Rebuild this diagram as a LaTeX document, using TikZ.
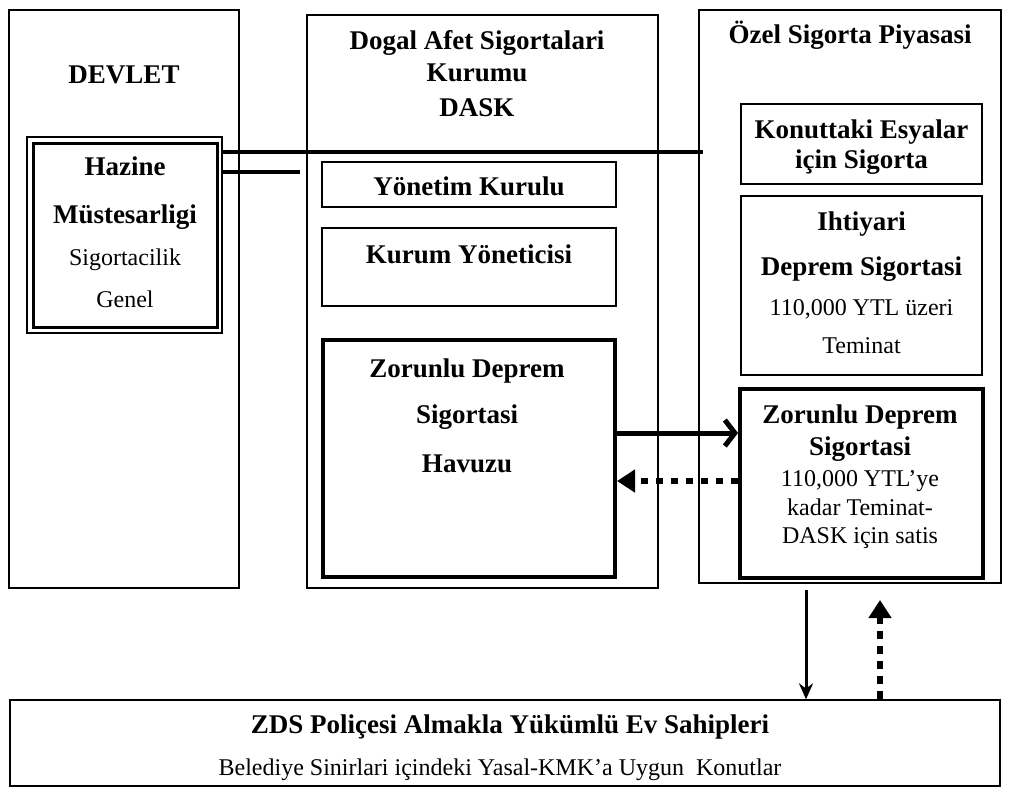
\documentclass[tikz,border=0pt]{standalone}
\usepackage{fontspec}
\setmainfont{Liberation Serif}
\usetikzlibrary{arrows.meta}

\begin{document}
\begin{tikzpicture}[x=1pt, y=-1pt,
	box/.style={draw, line width=1.3pt, inner sep=0pt},
	bigbox/.style={draw, line width=4pt, inner sep=0pt},
	ttl/.style={anchor=base, inner sep=0pt, font=\fontsize{27}{32}\selectfont\bfseries},
	txt/.style={anchor=base, inner sep=0pt, font=\fontsize{24}{28}\selectfont},
	link/.style={line width=4pt},
	pay/.style={line width=5pt, -{Straight Barb[length=10pt, width=26pt]}},
	back/.style={line width=6pt, dash pattern=on 7pt off 8pt, -{Triangle[length=18pt, width=22pt]}},
	down/.style={line width=3pt, -{Stealth[length=16pt, width=14pt]}},
	up/.style={line width=5.5pt, dash pattern=on 8pt off 7pt, -{Triangle[length=18pt, width=22pt]}}]

\useasboundingbox (0,0) rectangle (1011,788);

%\draw[step=50pt, gray!30] (0,0) grid (1011,788);

% columns
\node[box, minimum width=230pt, minimum height=578pt] (devlet) at (124,299) {};
\node[box, minimum width=351pt, minimum height=573pt] (dask) at (482.5,301.5) {};
\node[box, minimum width=302pt, minimum height=573pt] (ozel) at (850,296.5) {};

\node[ttl] (devletT) at (124,83) {DEVLET};
\node[ttl] (daskT1) at (477,49) {Dogal Afet Sigortalari};
\node[ttl] (daskT2) at (477,81) {Kurumu};
\node[ttl] (daskT3) at (477,116) {DASK};
\node[ttl] (ozelT) at (850,43) {Özel Sigorta Piyasasi};

% Hazine
\node[box, minimum width=195pt, minimum height=196pt] (hazineO) at (124.5,235) {};
\node[draw, line width=3pt, minimum width=184pt, minimum height=184pt] (hazine) at (125,235) {};
\node[ttl] (hazineT1) at (125,175) {Hazine};
\node[ttl] (hazineT2) at (125,223) {Müstesarligi};
\node[txt] (hazineT3) at (125,265) {Sigortacilik};
\node[txt] (hazineT4) at (125,307) {Genel};

% DASK
\node[box, minimum width=294pt, minimum height=45pt] (yonetim) at (469,184.5) {};
\node[ttl] (yonetimT) at (469,195) {Yönetim Kurulu};
\node[box, minimum width=294pt, minimum height=78pt] (kurum) at (469,267) {};
\node[ttl] (kurumT) at (469,263) {Kurum Yöneticisi};
\node[bigbox, minimum width=292pt, minimum height=237pt] (havuz) at (469,458.5) {};
\node[ttl] (havuzT1) at (467,377) {Zorunlu Deprem};
\node[ttl] (havuzT2) at (467,423) {Sigortasi};
\node[ttl] (havuzT3) at (467,472) {Havuzu};

% Ozel
\node[box, minimum width=241pt, minimum height=80pt] (konut) at (861.5,144) {};
\node[ttl] (konutT1) at (861.5,138) {Konuttaki Esyalar};
\node[ttl] (konutT2) at (861.5,168) {için Sigorta};
\node[box, minimum width=241pt, minimum height=179pt] (ihtiyari) at (861.5,285.5) {};
\node[ttl] (ihtiyariT1) at (861.5,230) {Ihtiyari};
\node[ttl] (ihtiyariT2) at (861.5,275) {Deprem Sigortasi};
\node[txt] (ihtiyariT3) at (861.5,315) {110,000 YTL üzeri};
\node[txt] (ihtiyariT4) at (861.5,353) {Teminat};
\node[bigbox, minimum width=243pt, minimum height=189pt] (zorunlu) at (861.5,483.5) {};
\node[ttl] (zorunluT1) at (860,423) {Zorunlu Deprem};
\node[ttl] (zorunluT2) at (860,455) {Sigortasi};
\node[txt] (zorunluT3) at (860,486) {110,000 YTL’ye};
\node[txt] (zorunluT4) at (860,515) {kadar Teminat-};
\node[txt] (zorunluT5) at (860,543) {DASK için satis};

% ev sahipleri
\node[box, minimum width=990pt, minimum height=86pt] (zds) at (505,743) {};
\node[ttl] (zdsT1) at (510,733) {ZDS Poliçesi Almakla Yükümlü Ev Sahipleri};
\node[txt] (zdsT2) at (500,775) {Belediye Sinirlari içindeki Yasal-KMK’a Uygun\ \ Konutlar};

% connectors
\coordinate (l1) at (703,152);
\coordinate (l2) at (300,172);
\draw[link] (l1 -| hazineO.east) -- (l1);
\draw[link] (l2 -| hazineO.east) -- (l2);

\coordinate (p1) at (615,433);
\coordinate (p2) at (740,481);
\draw[pay] (p1 -| havuz.east) -- (p1 -| zorunlu.west);
\draw[back] (p2 -| zorunlu.west) -- (p2 -| havuz.east);

\coordinate (v1) at (806,590);
\coordinate (v2) at (880,600);
\draw[down] (v1) -- (v1 |- zds.north);
\draw[up] (v2 |- zds.north) -- (v2);

\end{tikzpicture}
\end{document}
